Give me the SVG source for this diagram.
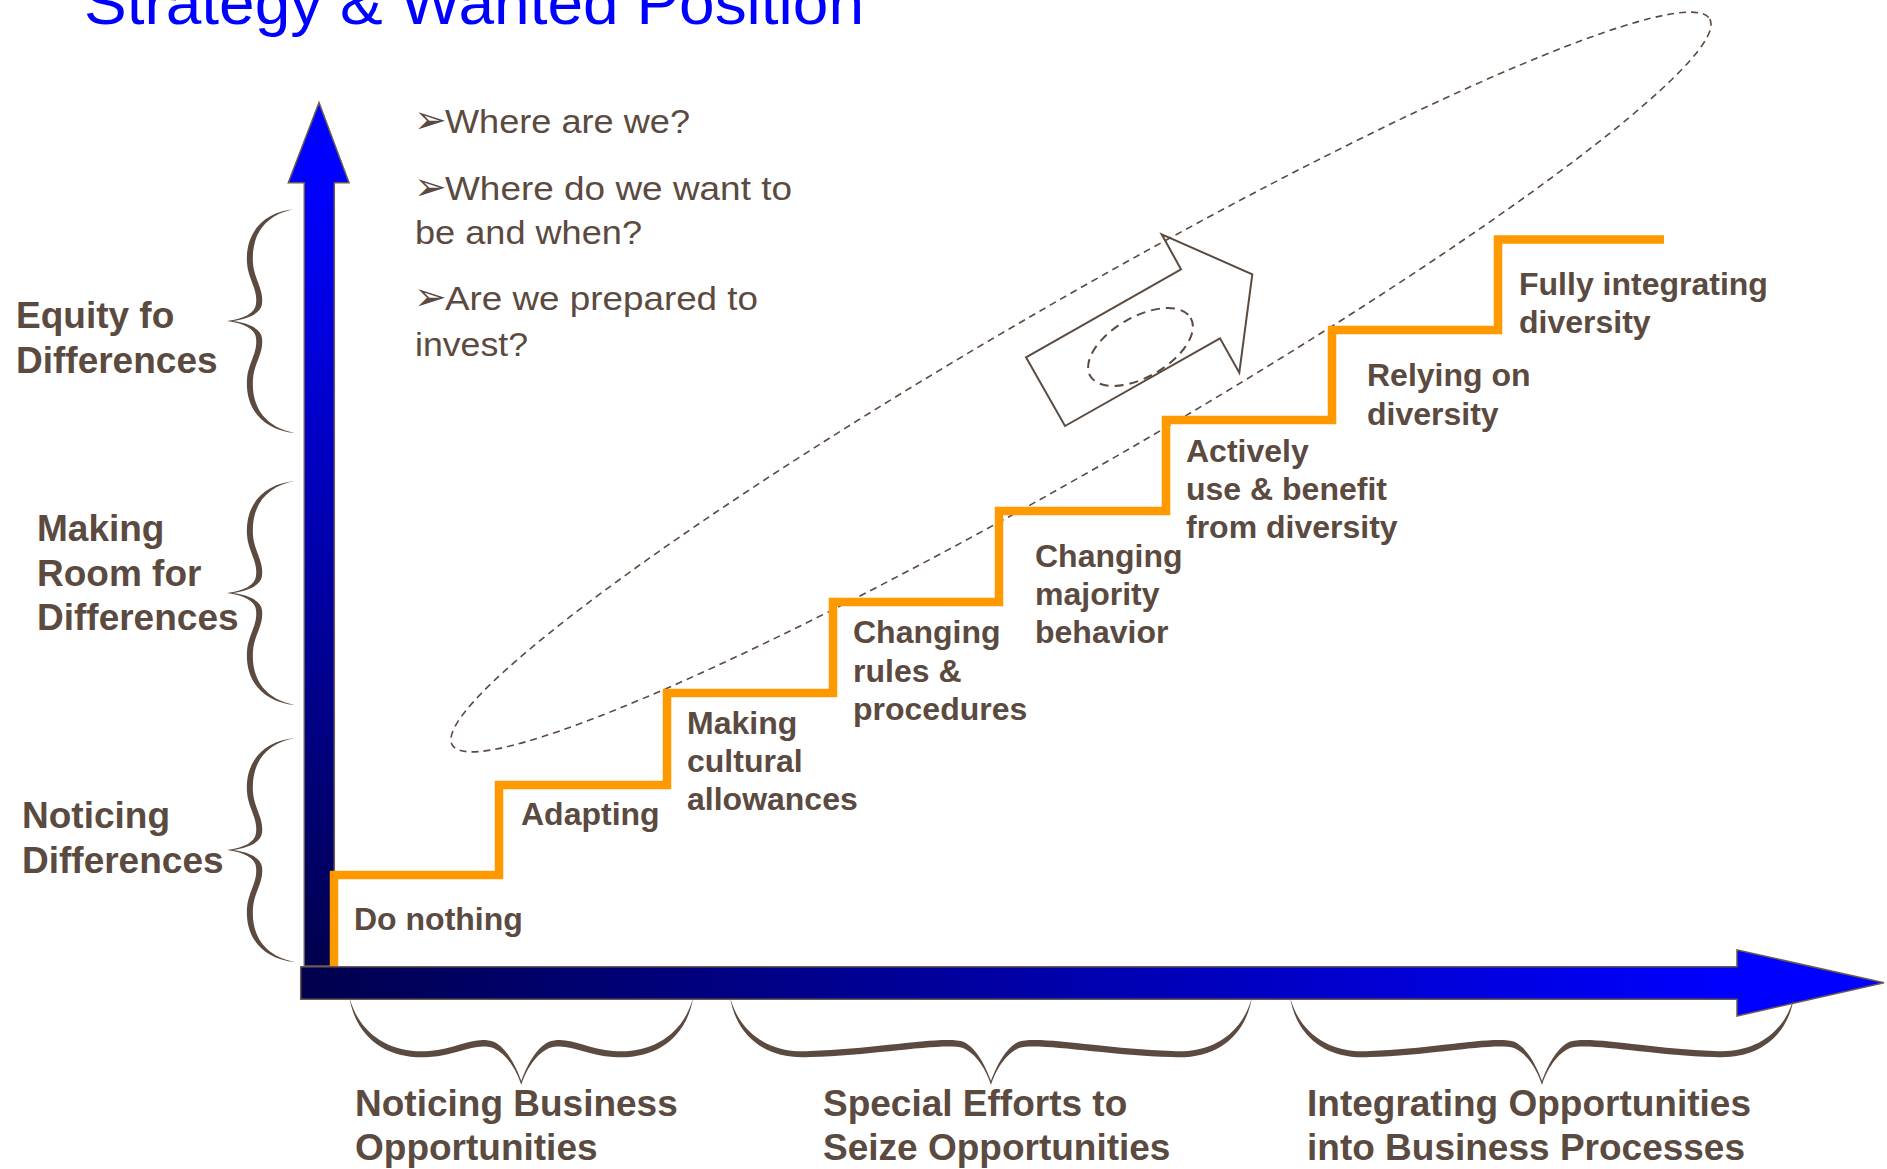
<svg xmlns="http://www.w3.org/2000/svg" width="1887" height="1169" viewBox="0 0 1887 1169">
  <style>
    .lbl { font-family: "Liberation Sans", Arial, sans-serif; font-weight: bold; font-size: 37px; fill: #5b4a3f; }
    .step { font-family: "Liberation Sans", Arial, sans-serif; font-weight: bold; font-size: 32px; fill: #5b4a3f; }
    .q { font-family: "Liberation Sans", Arial, sans-serif; font-size: 33px; fill: #5b4a3f; }
    .bullet { font-family: "DejaVu Sans", sans-serif; font-size: 39px; fill: #5b4a3f; }
    .title { font-family: "Liberation Sans", Arial, sans-serif; font-size: 62px; fill: #0000ff; }
    .axis { stroke: #6a5a50; stroke-width: 1.5; stroke-linejoin: miter; }
    .brace { fill: #5b4a3f; stroke: none; }
    .dash { fill: none; stroke: #5b4a3f; }
  </style>
  <defs>
    <linearGradient id="gradV" gradientUnits="userSpaceOnUse" x1="0" y1="183" x2="0" y2="966">
      <stop offset="0" stop-color="#0000ff"/>
      <stop offset="1" stop-color="#00004d"/>
    </linearGradient>
    <linearGradient id="gradH" gradientUnits="userSpaceOnUse" x1="301" y1="0" x2="1737" y2="0">
      <stop offset="0" stop-color="#00004d"/>
      <stop offset="1" stop-color="#0000ff"/>
    </linearGradient>
    <!-- vertical curly brace, tip at origin, pointing left, 224 tall -->
    <path id="braceV" d="M0 0 C-32 3,-50 24,-48 54 C-47 70,-37 80,-39 95 C-40 104,-51 110,-68 112 C-51 114,-40 120,-39 129 C-37 144,-47 154,-48 170 C-50 200,-32 221,0 224 C-28 219,-44 200,-42 170 C-41 154,-31 144,-33 129 C-34 120,-46 114,-62 112 C-46 110,-34 104,-33 95 C-31 80,-41 70,-42 54 C-44 24,-28 5,0 0 Z"/>
  </defs>

  <!-- title -->
  <text class="title" x="84" y="24" textLength="780" lengthAdjust="spacingAndGlyphs">Strategy &amp; Wanted Position</text>

  <!-- axes -->
  <g id="axis-vertical">
    <polygon class="axis" fill="url(#gradV)" points="304.3,966 304.3,182.7 288.3,182.7 319,102.7 349,182.7 334.3,182.7 334.3,966"/>
  </g>
  <g id="axis-horizontal">
    <polygon class="axis" fill="url(#gradH)" points="300.7,966.7 1737,966.7 1737,950 1884,982.7 1737,1016 1737,999.3 300.7,999.3"/>
  </g>

  <!-- dashed outlines around the staircase -->
  <g id="target-zone">
    <ellipse class="dash" cx="1081" cy="382" rx="726" ry="82" transform="rotate(-30 1081 382)" stroke-width="1.6" stroke-dasharray="7 5"/>
    <ellipse class="dash" cx="1140.5" cy="347" rx="58" ry="30" transform="rotate(-30 1140.5 347)" stroke-width="2" stroke-dasharray="9 6"/>
    <polygon class="dash" stroke-width="2" points="1026,357.3 1065,426 1220,338.3 1239.3,372.7 1252.3,274.3 1161.7,234.3 1181,269.3"/>
  </g>

  <!-- staircase -->
  <g id="connectors">
    <path d="M334 966 V875 H499 V785 H667 V693 H833 V602 H999 V511 H1166 V420 H1332 V330 H1498 V239.5 H1664" fill="none" stroke="#ff9900" stroke-width="8.5" stroke-linejoin="miter"/>
  </g>

  <!-- braces on the vertical axis -->
  <g id="brace-equity"><use href="#braceV" class="brace" transform="translate(295,209)"/></g>
  <g id="brace-room"><use href="#braceV" class="brace" transform="translate(295,481)"/></g>
  <g id="brace-noticing"><use href="#braceV" class="brace" transform="translate(295,738)"/></g>

  <!-- braces under the horizontal axis -->
  <g id="brace-business">
    <path class="brace" transform="translate(349.3,997)" d="M0 0 C7 43,40 63,80 60 C109 58,125 45,144 51 C160 58,169 78,172 88 C175 78,184 58,200 51 C219 45,235 58,264 60 C304 63,337 43,344 0 C334 38,302 57,264 54 C235 52,219 38,199 45 C185 52,176 73,172 84 C168 73,159 52,145 45 C125 38,109 52,80 54 C42 57,10 38,0 0 Z"/>
  </g>
  <g id="brace-efforts">
    <path class="brace" transform="translate(730,997)" d="M0 0 C7 43,40 63,80 60 C149 58,214 45,233 51 C249 58,258 78,261 88 C264 78,273 58,289 51 C308 45,373 58,442 60 C482 63,515 43,522 0 C512 38,480 57,442 54 C373 52,308 38,288 45 C274 52,265 73,261 84 C257 73,248 52,234 45 C214 38,149 52,80 54 C42 57,10 38,0 0 Z"/>
  </g>
  <g id="brace-integrating">
    <path class="brace" transform="translate(1290,997)" d="M0 0 C7 43,40 63,80 60 C145 58,205 45,224 51 C240 58,249 78,252 88 C255 78,264 58,280 51 C299 45,359 58,424 60 C464 63,497 43,504 0 C494 38,462 57,424 54 C359 52,299 38,279 45 C265 52,256 73,252 84 C248 73,239 52,225 45 C205 38,145 52,80 54 C42 57,10 38,0 0 Z"/>
  </g>

  <!-- questions -->
  <g id="questions">
    <text class="bullet" x="414" y="133">➢</text>
    <text class="q" x="445" y="133" textLength="245" lengthAdjust="spacingAndGlyphs">Where are we?</text>
    <text class="bullet" x="414" y="200">➢</text>
    <text class="q" x="445" y="200" textLength="347" lengthAdjust="spacingAndGlyphs">Where do we want to</text>
    <text class="q" x="415" y="244" textLength="227" lengthAdjust="spacingAndGlyphs">be and when?</text>
    <text class="bullet" x="414" y="310">➢</text>
    <text class="q" x="445" y="310" textLength="313" lengthAdjust="spacingAndGlyphs">Are we prepared to</text>
    <text class="q" x="415" y="356" textLength="113" lengthAdjust="spacingAndGlyphs">invest?</text>
  </g>

  <!-- vertical axis labels -->
  <g id="label-equity"><text class="lbl" x="16" y="328">Equity fo<tspan x="16" dy="44.5">Differences</tspan></text></g>
  <g id="label-room"><text class="lbl" x="37" y="541">Making<tspan x="37" dy="44.5">Room for</tspan><tspan x="37" dy="44.5">Differences</tspan></text></g>
  <g id="label-noticing"><text class="lbl" x="22" y="828">Noticing<tspan x="22" dy="44.5">Differences</tspan></text></g>

  <!-- horizontal axis labels -->
  <g id="label-business"><text class="lbl" x="355" y="1116">Noticing Business<tspan x="355" dy="44">Opportunities</tspan></text></g>
  <g id="label-efforts"><text class="lbl" x="823" y="1116">Special Efforts to<tspan x="823" dy="44">Seize Opportunities</tspan></text></g>
  <g id="label-integrating"><text class="lbl" x="1307" y="1116">Integrating Opportunities<tspan x="1307" dy="44">into Business Processes</tspan></text></g>

  <!-- step labels -->
  <g id="step-1"><text class="step" x="354" y="930">Do nothing</text></g>
  <g id="step-2"><text class="step" x="521" y="825">Adapting</text></g>
  <g id="step-3"><text class="step" x="687" y="734">Making<tspan x="687" dy="38">cultural</tspan><tspan x="687" dy="38">allowances</tspan></text></g>
  <g id="step-4"><text class="step" x="853" y="643">Changing<tspan x="853" dy="38.5">rules &amp;</tspan><tspan x="853" dy="38.5">procedures</tspan></text></g>
  <g id="step-5"><text class="step" x="1035" y="567">Changing<tspan x="1035" dy="38">majority</tspan><tspan x="1035" dy="38">behavior</tspan></text></g>
  <g id="step-6"><text class="step" x="1186" y="462">Actively<tspan x="1186" dy="38">use &amp; benefit</tspan><tspan x="1186" dy="38">from diversity</tspan></text></g>
  <g id="step-7"><text class="step" x="1367" y="386">Relying on<tspan x="1367" dy="38.5">diversity</tspan></text></g>
  <g id="step-8"><text class="step" x="1519" y="295">Fully integrating<tspan x="1519" dy="38">diversity</tspan></text></g>
</svg>
